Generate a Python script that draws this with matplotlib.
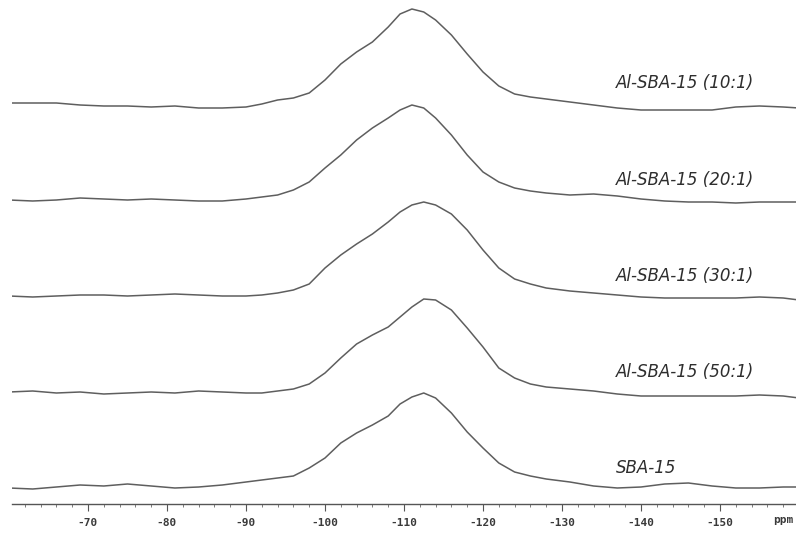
import matplotlib
matplotlib.use("Agg")
import matplotlib.pyplot as plt
from matplotlib.ticker import MultipleLocator, FixedLocator

# Chemical shift sampling points (ppm)
ppm = [-60, -63, -66, -69, -72, -75, -78, -81, -84, -87, -90, -92, -94, -96,
       -98, -100, -102, -104, -106, -108, -109.5, -111, -112.5, -114, -116,
       -118, -120, -122, -124, -126, -128, -131, -134, -137, -140, -143,
       -146, -149, -152, -155, -158, -160]

# 29Si MAS NMR intensities (arbitrary units, baseline-relative)
al_sba15_10 = [2, 2, 2, 0, -1, -1, -2, -1, -3, -3, -2, 1, 5, 7, 12, 25, 41, 53,
               63, 78, 91, 96, 93, 85, 70, 51, 33, 19, 11, 8, 6, 3, 0, -3, -5,
               -5, -5, -5, -2, -1, -2, -3]
al_sba15_20 = [0, -1, 0, 2, 1, 0, 1, 0, -1, -1, 1, 3, 5, 10, 18, 32, 45, 60,
               72, 82, 90, 95, 92, 82, 65, 45, 28, 18, 12, 9, 7, 5, 6, 4, 1,
               -1, -2, -2, -3, -2, -2, -2]
al_sba15_30 = [0, -1, 0, 1, 1, 0, 1, 2, 1, 0, 0, 1, 3, 6, 12, 28, 41, 52, 62,
               74, 84, 91, 94, 91, 82, 66, 46, 28, 17, 12, 8, 5, 3, 1, -1, -2,
               -2, -2, -2, -1, -2, -4]
al_sba15_50 = [1, 2, 0, 1, -1, 0, 1, 0, 2, 1, 0, 0, 2, 4, 9, 20, 35, 49, 58,
               66, 76, 86, 94, 93, 83, 65, 46, 25, 15, 9, 6, 4, 2, -1, -3, -3,
               -3, -3, -3, -2, -3, -5]
sba15 = [0, -1, 1, 3, 2, 4, 2, 0, 1, 3, 6, 8, 10, 12, 20, 30, 45, 55, 63, 72,
         84, 91, 95, 90, 75, 56, 40, 25, 16, 12, 9, 6, 2, 0, 1, 4, 5, 2, 0, 0,
         1, 1]

spectra = [al_sba15_10, al_sba15_20, al_sba15_30, al_sba15_50, sba15]
sample_labels = ["Al-SBA-15 (10:1)", "Al-SBA-15 (20:1)", "Al-SBA-15 (30:1)",
                 "Al-SBA-15 (50:1)", "SBA-15"]

# Vertical stacking of the traces
offsets = [399, 304, 208, 111, 16]
label_heights = [421, 324, 228, 132, 36]

major_ticks = [-70, -80, -90, -100, -110, -120, -130, -140, -150]

fig = plt.figure(figsize=(7.96, 5.36), dpi=100)
ax = fig.add_axes([12 / 796, 32 / 536, 784 / 796, 504 / 536])

line_color = "#5e5e5e"
for y, off in zip(spectra, offsets):
    ax.plot(ppm, [v + off for v in y], color=line_color, lw=1.1,
            solid_joinstyle="round", solid_capstyle="round")

for lab, h in zip(sample_labels, label_heights):
    ax.text(-136.8, h, lab, fontsize=12, style="italic", color="#2e2e2e",
            ha="left", va="center", family="DejaVu Sans")

ax.set_xlim(-60.38, -159.62)
ax.set_ylim(0, 504)

for s in ["top", "left", "right"]:
    ax.spines[s].set_visible(False)
ax.spines["bottom"].set_color("#555555")
ax.spines["bottom"].set_linewidth(1.0)

ax.set_yticks([])
ax.xaxis.set_major_locator(FixedLocator(major_ticks))
ax.xaxis.set_minor_locator(MultipleLocator(2))
ax.set_xticklabels([str(t) for t in major_ticks])
ax.tick_params(axis="x", which="major", length=5, width=0.8,
               colors="#555555", labelcolor="#3a3a3a", pad=5)
ax.tick_params(axis="x", which="minor", length=2.5, width=0.6,
               colors="#666666")
for tl in ax.get_xticklabels():
    tl.set_family("DejaVu Sans Mono")
    tl.set_fontweight("bold")
    tl.set_fontsize(8)

ax.text(-158.0, -16, "ppm", fontsize=8, fontweight="bold",
        family="DejaVu Sans Mono", color="#3a3a3a", ha="center", va="center",
        clip_on=False)

fig.savefig("out.png", dpi=100)
